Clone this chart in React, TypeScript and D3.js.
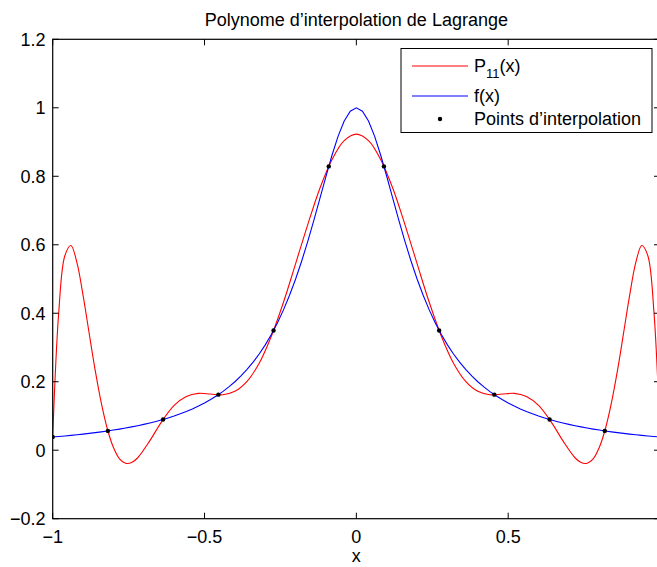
import React from "react";
import * as d3 from "d3";

// f(x) samples (Runge function, read at step 0.02)
const fX = [-1, -0.98, -0.96, -0.94, -0.92, -0.9, -0.88, -0.86, -0.84, -0.82, -0.8, -0.78, -0.76, -0.74, -0.72, -0.7, -0.68, -0.66, -0.64, -0.62, -0.6, -0.58, -0.56, -0.54, -0.52, -0.5, -0.48, -0.46, -0.44, -0.42, -0.4, -0.38, -0.36, -0.34, -0.32, -0.3, -0.28, -0.26, -0.24, -0.22, -0.2, -0.18, -0.16, -0.14, -0.12, -0.1, -0.08, -0.06, -0.04, -0.02, 0, 0.02, 0.04, 0.06, 0.08, 0.1, 0.12, 0.14, 0.16, 0.18, 0.2, 0.22, 0.24, 0.26, 0.28, 0.3, 0.32, 0.34, 0.36, 0.38, 0.4, 0.42, 0.44, 0.46, 0.48, 0.5, 0.52, 0.54, 0.56, 0.58, 0.6, 0.62, 0.64, 0.66, 0.68, 0.7, 0.72, 0.74, 0.76, 0.78, 0.8, 0.82, 0.84, 0.86, 0.88, 0.9, 0.92, 0.94, 0.96, 0.98, 1];
const fY = [0.0385, 0.04, 0.0416, 0.0433, 0.0451, 0.0471, 0.0491, 0.0513, 0.0536, 0.0561, 0.0588, 0.0617, 0.0648, 0.0681, 0.0716, 0.0755, 0.0796, 0.0841, 0.089, 0.0943, 0.1, 0.1063, 0.1131, 0.1206, 0.1289, 0.1379, 0.1479, 0.159, 0.1712, 0.1848, 0.2, 0.2169, 0.2358, 0.2571, 0.2809, 0.3077, 0.3378, 0.3717, 0.4098, 0.4525, 0.5, 0.5525, 0.6098, 0.6711, 0.7353, 0.8, 0.8621, 0.9174, 0.9615, 0.9901, 1, 0.9901, 0.9615, 0.9174, 0.8621, 0.8, 0.7353, 0.6711, 0.6098, 0.5525, 0.5, 0.4525, 0.4098, 0.3717, 0.3378, 0.3077, 0.2809, 0.2571, 0.2358, 0.2169, 0.2, 0.1848, 0.1712, 0.159, 0.1479, 0.1379, 0.1289, 0.1206, 0.1131, 0.1063, 0.1, 0.0943, 0.089, 0.0841, 0.0796, 0.0755, 0.0716, 0.0681, 0.0648, 0.0617, 0.0588, 0.0561, 0.0536, 0.0513, 0.0491, 0.0471, 0.0451, 0.0433, 0.0416, 0.04, 0.0385];

// P11(x) samples
const pX = [-1, -0.98, -0.96, -0.94, -0.92, -0.9, -0.88, -0.86, -0.84, -0.82, -0.8, -0.78, -0.76, -0.74, -0.72, -0.68, -0.64, -0.6, -0.56, -0.52, -0.48, -0.44, -0.4, -0.36, -0.32, -0.28, -0.24, -0.2, -0.16, -0.12, -0.08, -0.04, 0, 0.04, 0.08, 0.12, 0.16, 0.2, 0.24, 0.28, 0.32, 0.36, 0.4, 0.44, 0.48, 0.52, 0.56, 0.6, 0.64, 0.68, 0.72, 0.74, 0.76, 0.78, 0.8, 0.82, 0.84, 0.86, 0.88, 0.9, 0.92, 0.94, 0.96, 0.98, 1];
const pY = [0.038, 0.404, 0.568, 0.598, 0.547, 0.452, 0.342, 0.233, 0.138, 0.062, 0.008, -0.025, -0.038, -0.036, -0.022, 0.028, 0.085, 0.131, 0.157, 0.166, 0.164, 0.162, 0.172, 0.201, 0.254, 0.333, 0.432, 0.545, 0.659, 0.765, 0.849, 0.904, 0.923, 0.904, 0.849, 0.765, 0.659, 0.545, 0.432, 0.333, 0.254, 0.201, 0.172, 0.162, 0.164, 0.166, 0.157, 0.131, 0.085, 0.028, -0.022, -0.036, -0.038, -0.025, 0.008, 0.062, 0.138, 0.233, 0.342, 0.452, 0.547, 0.598, 0.568, 0.404, 0.038];

// interpolation nodes
const nodeX = [-1, -0.8182, -0.6364, -0.4545, -0.2727, -0.0909, 0.0909, 0.2727, 0.4545, 0.6364, 0.8182, 1];
const nodeY = [0.0385, 0.0564, 0.0899, 0.1622, 0.3497, 0.8288, 0.8288, 0.3497, 0.1622, 0.0899, 0.0564, 0.0385];

const xTicks = [-1, -0.5, 0, 0.5, 1];
const xTickLabels = ["\u22121", "\u22120.5", "0", "0.5", ""];
const yTicks = [-0.2, 0, 0.2, 0.4, 0.6, 0.8, 1, 1.2];
const yTickLabels = ["\u22120.2", "0", "0.2", "0.4", "0.6", "0.8", "1", "1.2"];

const FONT = "'Liberation Sans', Arial, Helvetica, sans-serif";

export default function App() {
  const W = 657, H = 567;
  const L = 52.7, R = 660, T = 39.3, B = 518.7;
  const x = d3.scaleLinear().domain([-1, 1]).range([L, R]);
  const y = d3.scaleLinear().domain([-0.2, 1.2]).range([B, T]);
  const fPts = fX.map((v, i) => [v, fY[i]] as [number, number]);
  const pPts = pX.map((v, i) => [v, pY[i]] as [number, number]);
  const lineLin = d3.line<[number, number]>().x(d => x(d[0])).y(d => y(d[1]));
  const lineSmooth = d3.line<[number, number]>().x(d => x(d[0])).y(d => y(d[1])).curve(d3.curveCatmullRom.alpha(0.5));
  const tl = 6;
  return (
    <svg width={W} height={H} style={{ position: "absolute", left: 0, top: 0 }} fontFamily={FONT}>
      <rect x={0} y={0} width={W} height={H} fill="#fff" />
      <defs>
        <clipPath id="plotclip">
          <rect x={L} y={T} width={R - L} height={B - T} />
        </clipPath>
      </defs>
      <rect x={L} y={T} width={R - L} height={B - T} fill="#fff" />
      <g clipPath="url(#plotclip)">
        <path d={lineSmooth(pPts) || ""} fill="none" stroke="#ff0000" strokeWidth={1.1} />
        <path d={lineLin(fPts) || ""} fill="none" stroke="#0000ff" strokeWidth={1.1} />
        {nodeX.map((v, i) => (
          <circle key={i} cx={x(v)} cy={y(nodeY[i])} r={2.2} fill="#000" />
        ))}
      </g>
      {xTicks.map((t, i) => (
        <g key={"xt" + i}>
          <line x1={x(t)} x2={x(t)} y1={B} y2={B - tl} stroke="#000" strokeWidth={1} />
          <line x1={x(t)} x2={x(t)} y1={T} y2={T + tl} stroke="#000" strokeWidth={1} />
          {xTickLabels[i] ? (
            <text x={x(t)} y={542.5} textAnchor="middle" fontSize={18} fill="#000">{xTickLabels[i]}</text>
          ) : null}
        </g>
      ))}
      {yTicks.map((t, i) => (
        <g key={"yt" + i}>
          <line x1={L} x2={L + tl} y1={y(t)} y2={y(t)} stroke="#000" strokeWidth={1} />
          <line x1={R} x2={R - tl} y1={y(t)} y2={y(t)} stroke="#000" strokeWidth={1} />
          <text x={45.5} y={y(t)} dy="0.36em" textAnchor="end" fontSize={18} fill="#000">{yTickLabels[i]}</text>
        </g>
      ))}
      <rect x={L} y={T} width={R - L} height={B - T} fill="none" stroke="#000" strokeWidth={1.2} />
      <text x={(L + R) / 2} y={26} textAnchor="middle" fontSize={18} fill="#000">Polynome d’interpolation de Lagrange</text>
      <text x={(L + R) / 2} y={562} textAnchor="middle" fontSize={18} fill="#000">x</text>
      <g>
        <rect x={401} y={48.5} width={251} height={84} fill="#fff" stroke="#000" strokeWidth={1} />
        <line x1={412} x2={468} y1={66} y2={66} stroke="#ff0000" strokeWidth={1.1} />
        <text x={474} y={72} fontSize={18} fill="#000">
          <tspan>P</tspan>
          <tspan dy={6} fontSize={13}>11</tspan>
          <tspan dy={-6}>(x)</tspan>
        </text>
        <line x1={412} x2={468} y1={96} y2={96} stroke="#0000ff" strokeWidth={1.1} />
        <text x={474} y={102} fontSize={18} fill="#000">f(x)</text>
        <circle cx={440} cy={119} r={2.2} fill="#000" />
        <text x={474} y={125} fontSize={18} fill="#000">Points d’interpolation</text>
      </g>
    </svg>
  );
}
